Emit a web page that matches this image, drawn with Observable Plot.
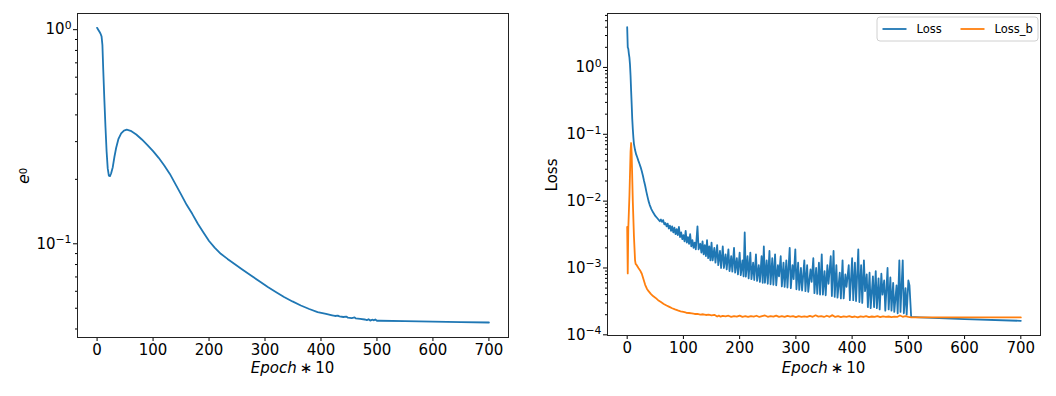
<!DOCTYPE html>
<html><head><meta charset="utf-8">
<script src="https://cdn.jsdelivr.net/npm/d3@7"></script>
<script src="https://cdn.jsdelivr.net/npm/@observablehq/plot@0.6"></script>
<style>
body{margin:0;background:#fff;}
#wrap{display:flex;width:1056px;height:396px;background:#fff;}
svg text{font-family:"DejaVu Sans",sans-serif;}
</style></head><body><div id="wrap"></div>
<script>
// ---------- data ----------
const xTicks = [0, 100, 200, 300, 400, 500, 600, 700];
const leftYTicks = [1, 0.1];
const rightYTicks = [1, 0.1, 0.01, 0.001, 0.0001];
const seriesNames = ["Loss", "Loss_b"];

const e0X = [0,2,4,6,8,9.5,11,13,15,17,19,21,23,25,28,31,34,38,43,48,53,60,70,80,90,100,110,120,130,140,150,160,170,180,190,200,210,221,233,245,260,275,290,305,320,334,349,364,379,394,409,420,425,430,433,440,445,448,455,460,462,470,478,482,485,488,492,494,497,500,505,550,600,650,700];
const e0Y = [1.02,1.0,0.98,0.96,0.93,0.85,0.65,0.47,0.35,0.27,0.225,0.208,0.207,0.213,0.228,0.255,0.28,0.308,0.328,0.338,0.341,0.337,0.324,0.307,0.289,0.271,0.252,0.232,0.212,0.19,0.17,0.152,0.138,0.124,0.113,0.103,0.096,0.0898,0.085,0.0807,0.0757,0.0711,0.0668,0.0628,0.0594,0.0564,0.0538,0.0515,0.0496,0.048,0.047,0.0463,0.046,0.0462,0.0458,0.0455,0.0457,0.0452,0.045,0.0453,0.0448,0.0446,0.0443,0.044,0.0444,0.0438,0.0442,0.0439,0.0443,0.0437,0.0437,0.0435,0.0433,0.0431,0.0429];

const lossX = [0,1,2,3,4,5,6,7,8,9,10,11,12,14,16,18,20,22,24,26,28,30,32,34,36,38,40,43,46,50,54,58,60,
62,64,66,68,70,72,74,76,78,80,82,84,86,88,90,92,94,96,98,100,102,104,106,108,110,112,114,116,118,120,122,125,127,130,132,134,136,138,140,142,144,146,148,150,152,155,157,160,162,165,167,170,172,175,177,180,182,185,187,190,192,195,197,200,202,205,207,209,211,214,216,219,221,224,226,229,231,234,236,239,241,243,245,248,250,253,255,258,260,263,265,268,270,273,275,278,280,283,285,289,291,294,296,299,301,304,306,309,311,315,317,320,322,326,328,331,333,336,338,341,343,346,348,351,353,356,358,362,364,367,369,372,374,378,380,383,385,388,390,394,396,400,402,405,407,411,413,416,418,421,423,426,428,431,433,437,439,442,444,447,449,452,454,457,459,463,465,468,470,473,475,479,481,484,486,490,492,495,497,500,502,505,520,600,700];
const lossY = [4.0,2.0,1.9,1.6,1.4,1.1,0.75,0.45,0.28,0.17,0.12,0.09,0.072,0.058,0.05,0.045,0.04,0.036,0.032,0.028,0.024,0.02,0.017,0.014,0.0118,0.01,0.0088,0.0076,0.0068,0.006,0.0055,0.005,0.0053,
0.0049,0.0052,0.0045,0.0047,0.0042,0.0046,0.0039,0.0043,0.0036,0.0042,0.0034,0.004,0.0032,0.0038,0.0031,0.0041,0.0029,0.0034,0.0027,0.0031,0.0025,0.0036,0.0024,0.0029,0.0023,0.0032,0.0021,0.0026,0.002,0.0024,0.0019,0.0042,0.0019,0.0023,0.0017,0.0025,0.0016,0.0022,0.0015,0.0026,0.0014,0.0021,0.0013,0.0024,0.0013,0.002,0.0012,0.0022,0.0011,0.0018,0.001,0.0021,0.001,0.0016,0.00095,0.0019,0.0009,0.0015,0.00088,0.002,0.00085,0.0014,0.0008,0.0017,0.00078,0.0013,0.00075,0.0034,0.00074,0.0015,0.0007,0.0017,0.00068,0.0012,0.00066,0.0016,0.00064,0.0011,0.00062,0.0015,0.0006,0.0021,0.0006,0.0013,0.00058,0.0018,0.00057,0.0014,0.00056,0.0016,0.00055,0.0011,0.00075,0.0015,0.00053,0.0012,0.00052,0.0013,0.00051,0.002,0.0005,0.0011,0.00068,0.0019,0.00048,0.0012,0.00047,0.001,0.00046,0.0013,0.00045,0.0011,0.00044,0.00095,0.00062,0.0014,0.00042,0.001,0.00041,0.0012,0.0004,0.0016,0.0004,0.0009,0.00039,0.0011,0.00058,0.0015,0.00038,0.0018,0.00037,0.0011,0.00036,0.00085,0.00035,0.0013,0.00035,0.0008,0.00052,0.0011,0.00033,0.0014,0.00033,0.0012,0.00032,0.0019,0.00031,0.0011,0.0003,0.0013,0.00045,0.0008,0.00026,0.00085,0.00025,0.00075,0.00026,0.0009,0.00025,0.0007,0.00024,0.00082,0.0004,0.00065,0.00023,0.001,0.00024,0.00072,0.00023,0.0006,0.00022,0.00055,0.00021,0.0013,0.00022,0.0013,0.00021,0.0005,0.0002,0.00065,0.00055,0.000185,0.000182,0.000172,0.000162];

const lossBX = [0,1,2,4,6,7,8,10,12,14,15,17,20,23,26,29,32,35,38,42,46,50,55,60,65,70,75,80,85,90,95,100,105,110,115,120,125,130,135,140,145,150,155,160,163,166,170,175,180,185,190,195,200,205,210,215,220,225,230,235,240,245,250,255,260,265,270,275,280,285,290,295,300,305,310,315,320,325,330,335,340,345,350,355,360,365,370,375,380,385,390,395,400,405,410,415,420,425,430,435,440,445,450,455,460,465,470,475,480,485,490,495,500,505,700];
const lossBY = [0.0041,0.00083,0.004,0.012,0.055,0.074,0.05,0.01,0.003,0.0013,0.00115,0.0011,0.001,0.00092,0.00082,0.00068,0.00056,0.00049,0.00045,0.00041,0.00038,0.00036,0.00033,0.00031,0.00029,0.000275,0.000262,0.00025,0.00024,0.000232,0.000225,0.00022,0.000214,0.000212,0.000209,0.000205,0.000206,0.000201,0.000203,0.000198,0.0002,0.000196,0.000199,0.000188,0.000194,0.000187,0.000192,0.000189,0.000193,0.000186,0.000191,0.000187,0.000194,0.000186,0.00019,0.000185,0.000191,0.000187,0.000193,0.000185,0.00019,0.000195,0.000186,0.000191,0.000187,0.000194,0.000186,0.00019,0.000185,0.000192,0.000187,0.00019,0.000184,0.000191,0.000186,0.000189,0.000185,0.000192,0.000186,0.000196,0.000187,0.00019,0.000185,0.000193,0.000186,0.000197,0.000185,0.00019,0.000184,0.000189,0.000186,0.000191,0.000184,0.000188,0.000182,0.000189,0.000185,0.00019,0.000184,0.000188,0.000185,0.000191,0.000184,0.000189,0.000185,0.000188,0.000184,0.000187,0.000185,0.000195,0.000186,0.00019,0.000185,0.000183,0.000182];

// ---------- helpers ----------
const FONT = "DejaVu Sans";
const BLUE = "#1f77b4", ORANGE = "#ff7f0e";
const toRows = (xs, ys, name) => xs.map((x, i) => ({x, y: ys[i], series: name}));
const minorTicks = (lo, hi) => {
  const t = [];
  for (let e = -5; e <= 1; e++) for (let m = 2; m <= 9; m++) { const v = m * Math.pow(10, e); if (v >= lo && v <= hi) t.push(v); }
  return t;
};
const powFmt = d => "10^" + String(Math.round(Math.log10(d))).replace("-", "\u2212");

function fixSuperscripts(svg) {
  d3.select(svg).selectAll("text").each(function () {
    const m = /^10\^(.+)$/.exec(this.textContent);
    if (m) {
      const s = d3.select(this);
      s.text(null);
      s.append("tspan").text("10");
      s.append("tspan").attr("dy", "-0.5em").attr("font-size", "0.72em").text(m[1]);
    }
  });
}
function xLabel(svg, cx) {
  const t = d3.select(svg).append("text").attr("x", cx).attr("y", 373)
    .attr("text-anchor", "middle").style("font-family", FONT).style("font-size", "15px").attr("fill", "black");
  t.append("tspan").attr("font-style", "italic").text("Epoch");
  t.append("tspan").text("\u2009\u2217\u200910");
}

function basePlot(opts) {
  return Plot.plot({
    width: opts.width, height: 396,
    marginLeft: opts.ml, marginRight: opts.mr, marginTop: 13, marginBottom: opts.mb,
    style: {fontFamily: FONT, fontSize: "15px", background: "white", color: "black", overflow: "visible"},
    x: {domain: [-35, 735]},
    y: {type: "log", domain: opts.yDomain},
    marks: [
      Plot.axisX({ticks: xTicks, tickSize: 4, tickPadding: 3, label: null, tickFormat: d => String(d), fontSize: 15}),
      Plot.axisY({ticks: opts.majors, tickSize: 4, tickPadding: 2, label: null, tickFormat: powFmt, fontSize: 15}),
      Plot.axisY({ticks: minorTicks(opts.yDomain[0], opts.yDomain[1]), tickSize: 2, label: null, tickFormat: () => ""}),
      ...opts.lines,
      Plot.frame({stroke: "#222", strokeWidth: 1})
    ]
  });
}

// ---------- left: e0 ----------
const left = basePlot({
  width: 530, ml: 77, mr: 22, mb: 59,
  yDomain: [0.0365, 1.19], majors: leftYTicks,
  lines: [Plot.line(toRows(e0X, e0Y, "e0"), {x: "x", y: "y", stroke: BLUE, strokeWidth: 1.8})]
});
fixSuperscripts(left);
xLabel(left, 292.5);
{
  const t = d3.select(left).append("text").attr("transform", "translate(29,176) rotate(-90)")
    .attr("text-anchor", "middle").style("font-family", FONT).style("font-size", "16px").attr("fill", "black");
  t.append("tspan").attr("font-style", "italic").text("e");
  t.append("tspan").style("font-size", "10px").attr("dy", -2).text("0");
}

// ---------- right: losses ----------
const right = basePlot({
  width: 526, ml: 77, mr: 16, mb: 61,
  yDomain: [9.77e-5, 6.41], majors: rightYTicks,
  lines: [
    Plot.line(toRows(lossX, lossY, seriesNames[0]), {x: "x", y: "y", stroke: BLUE, strokeWidth: 1.8}),
    Plot.line(toRows(lossBX, lossBY, seriesNames[1]), {x: "x", y: "y", stroke: ORANGE, strokeWidth: 1.8})
  ]
});
fixSuperscripts(right);
xLabel(right, 293.5);
d3.select(right).append("text").attr("transform", "translate(27,175) rotate(-90)")
  .attr("text-anchor", "middle").style("font-family", FONT).style("font-size", "15px").attr("fill", "black").text("Loss");
{
  const g = d3.select(right).append("g");
  g.append("rect").attr("x", 347).attr("y", 17).attr("width", 161).attr("height", 24).attr("rx", 3)
    .attr("fill", "white").attr("fill-opacity", 0.85).attr("stroke", "#d0d0d0");
  const items = [{name: seriesNames[0], c: BLUE, x: 352.5}, {name: seriesNames[1], c: ORANGE, x: 430.5}];
  for (const it of items) {
    g.append("line").attr("x1", it.x).attr("x2", it.x + 24).attr("y1", 29).attr("y2", 29)
      .attr("stroke", it.c).attr("stroke-width", 1.8);
    g.append("text").attr("x", it.x + 34).attr("y", 29).attr("dy", "0.35em").attr("text-anchor", "start")
      .style("font-family", FONT).style("font-size", "11.5px").attr("fill", "black").text(it.name);
  }
}

document.getElementById("wrap").append(left, right);
</script></body></html>
